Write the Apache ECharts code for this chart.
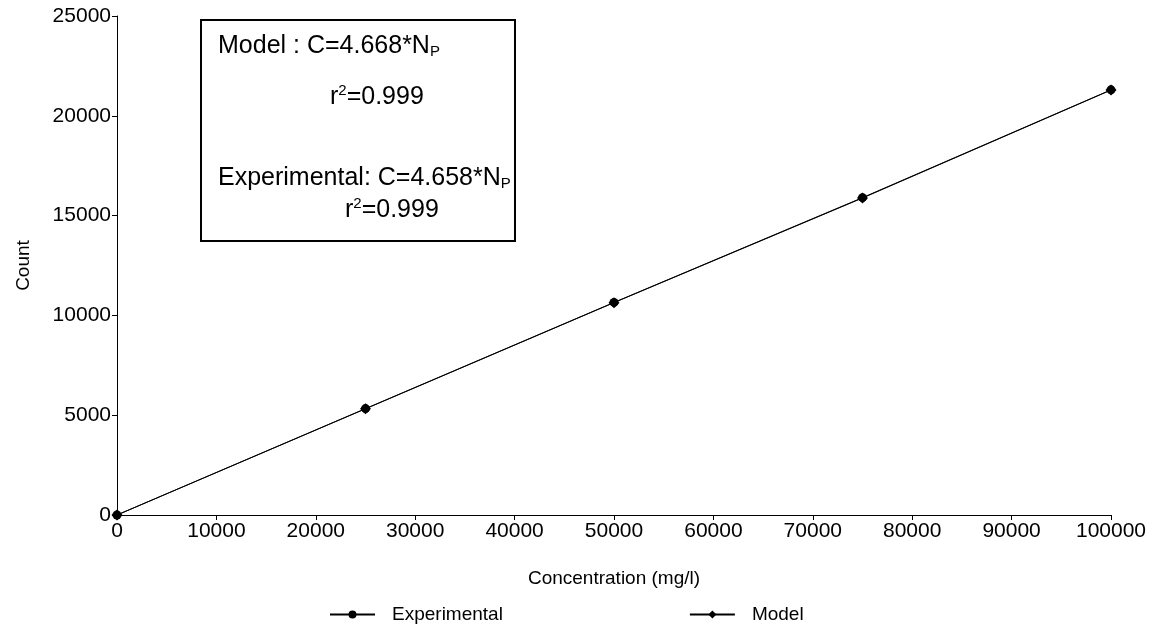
<!DOCTYPE html>
<html>
<head>
<meta charset="utf-8">
<script src="https://cdn.jsdelivr.net/npm/echarts@6/dist/echarts.min.js"></script>
<style>
html,body{margin:0;padding:0;background:#fff;}
#chart{width:1160px;height:641px;}
</style>
</head>
<body>
<div id="chart"></div>
<script>
const concentrations = [0, 25000, 50000, 75000, 100000];
const experimentalCounts = [0, 5330, 10650, 15900, 21300];
const modelCounts = [0, 5320, 10640, 15880, 21290];
const seriesNames = ['Experimental', 'Model'];
const xAxisTitle = 'Concentration (mg/l)';
const yAxisTitle = 'Count';

const FONT = '"Liberation Sans", Arial, sans-serif';
const chart = echarts.init(document.getElementById('chart'));

function pairs(xs, ys) { return xs.map((x, i) => [x, ys[i]]); }
const plain = v => String(v);

const option = {
  backgroundColor: '#fff',
  animation: false,
  grid: { left: 117, right: 49, top: 16, bottom: 126, containLabel: false },
  xAxis: {
    type: 'value', min: 0, max: 100000, interval: 10000,
    name: xAxisTitle, nameLocation: 'middle', nameGap: 54,
    nameTextStyle: { fontFamily: FONT, fontSize: 19, color: '#000' },
    axisLine: { show: true, lineStyle: { color: '#000', width: 1 } },
    axisTick: { show: true, length: 5, inside: false, lineStyle: { color: '#000' } },
    axisLabel: { fontFamily: FONT, fontSize: 21, color: '#000', margin: 6, formatter: plain },
    splitLine: { show: false }
  },
  yAxis: {
    type: 'value', min: 0, max: 25000, interval: 5000,
    name: yAxisTitle, nameLocation: 'middle', nameGap: 84, nameRotate: 90,
    nameTextStyle: { fontFamily: FONT, fontSize: 19, color: '#000' },
    axisLine: { show: true, lineStyle: { color: '#000', width: 1 } },
    axisTick: { show: true, length: 5, lineStyle: { color: '#000' } },
    axisLabel: { fontFamily: FONT, fontSize: 21, color: '#000', margin: 6, formatter: plain },
    splitLine: { show: false }
  },
  legend: {
    left: 324, top: 600, itemGap: 186, itemWidth: 45, itemHeight: 10,
    textStyle: { fontFamily: FONT, fontSize: 19, color: '#000', padding: [0, 0, 0, 12] },
    data: seriesNames
  },
  series: [
    {
      name: seriesNames[0], type: 'line', data: pairs(concentrations, experimentalCounts),
      symbol: 'circle', symbolSize: 9,
      lineStyle: { color: '#000', width: 1 },
      itemStyle: { color: '#000' }
    },
    {
      name: seriesNames[1], type: 'line', data: pairs(concentrations, modelCounts),
      symbol: 'diamond', symbolSize: 11,
      lineStyle: { color: '#000', width: 1 },
      itemStyle: { color: '#000' }
    }
  ],
  graphic: [
    { type: 'rect', shape: { x: 201, y: 20, width: 314, height: 221 },
      style: { fill: '#fff', stroke: '#000', lineWidth: 2 }, z: 100 },
    { type: 'text', x: 218, y: 34, z: 101,
      style: { text: 'Model : C=4.668*N{sub|P}', fontFamily: FONT, fontSize: 25, fill: '#000',
        rich: { sub: { fontSize: 15, fontFamily: FONT, verticalAlign: 'bottom', lineHeight: 10, fill: '#000' } } } },
    { type: 'text', x: 330, y: 83, z: 101,
      style: { text: 'r{sup|2}=0.999', fontFamily: FONT, fontSize: 25, fill: '#000',
        rich: { sup: { fontSize: 15, fontFamily: FONT, verticalAlign: 'top', lineHeight: 28, fill: '#000' } } } },
    { type: 'text', x: 218, y: 166, z: 101,
      style: { text: 'Experimental: C=4.658*N{sub|P}', fontFamily: FONT, fontSize: 25, fill: '#000',
        rich: { sub: { fontSize: 15, fontFamily: FONT, verticalAlign: 'bottom', lineHeight: 10, fill: '#000' } } } },
    { type: 'text', x: 345, y: 196, z: 101,
      style: { text: 'r{sup|2}=0.999', fontFamily: FONT, fontSize: 25, fill: '#000',
        rich: { sup: { fontSize: 15, fontFamily: FONT, verticalAlign: 'top', lineHeight: 28, fill: '#000' } } } }
  ]
};
chart.setOption(option);
</script>
</body>
</html>
